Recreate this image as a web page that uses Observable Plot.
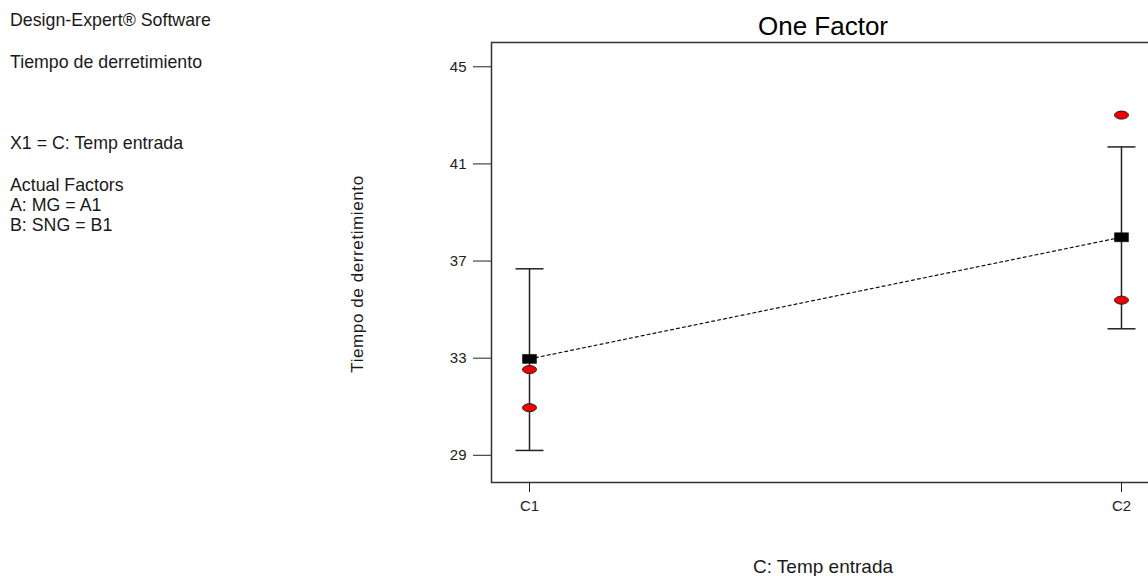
<!DOCTYPE html>
<html><head><meta charset="utf-8">
<script src="https://cdn.jsdelivr.net/npm/d3@7"></script>
<script src="https://cdn.jsdelivr.net/npm/@observablehq/plot@0.6"></script>
<style>
body{margin:0;background:#fff;font-family:"Liberation Sans",Arial,sans-serif;}
#wrap{position:relative;width:1148px;height:576px;overflow:hidden;background:#fff;}
#chart{position:absolute;left:0;top:0;}
#chart svg{max-width:none !important;}
.t{position:absolute;white-space:nowrap;color:#1a1a1a;line-height:1;}
</style></head><body>
<div id="wrap">
<div id="chart"></div>
<div class="t" style="left:10px;top:12px;font-size:17.8px">Design-Expert® Software</div>
<div class="t" style="left:10px;top:54px;font-size:17.8px">Tiempo de derretimiento</div>
<div class="t" style="left:10px;top:135px;font-size:17.8px">X1 = C: Temp entrada</div>
<div class="t" style="left:10px;top:177px;font-size:17.8px">Actual Factors</div>
<div class="t" style="left:10px;top:197px;font-size:17.8px">A: MG = A1</div>
<div class="t" style="left:10px;top:217px;font-size:17.8px">B: SNG = B1</div>
<div class="t" style="left:823px;top:26px;font-size:26px;transform:translate(-50%,-50%);color:#000">One Factor</div>
<div class="t" style="left:823px;top:566px;font-size:19px;transform:translate(-50%,-50%)">C: Temp entrada</div>
<div class="t" style="left:357px;top:274px;font-size:17px;letter-spacing:0.6px;transform:translate(-50%,-50%) rotate(-90deg)">Tiempo de derretimiento</div>
</div>
<script>
const categories = ["C1", "C2"];
const predicted = [32.97, 37.98];
const lowerCI = [29.2, 34.21];
const upperCI = [36.68, 41.70];
const observedCategory = ["C1", "C1", "C2", "C2"];
const observedValue = [32.53, 30.96, 43.01, 35.39];
const yTicks = [29, 33, 37, 41, 45];

const pos = c => categories.indexOf(c) + 1;
const rows = categories.map((c, i) => ({x: pos(c), mean: predicted[i], lo: lowerCI[i], hi: upperCI[i]}));
const obs = observedCategory.map((c, i) => ({x: pos(c), value: observedValue[i]}));

const capSymbol = {draw(ctx, size) { const r = Math.sqrt(size / Math.PI); ctx.moveTo(-r, 0); ctx.lineTo(r, 0); }};
const ellipseSymbol = {draw(ctx, size) {
  const rx = Math.sqrt(size / Math.PI), ry = rx * 4 / 7, k = 0.5523;
  ctx.moveTo(rx, 0);
  ctx.bezierCurveTo(rx, ry * k, rx * k, ry, 0, ry);
  ctx.bezierCurveTo(-rx * k, ry, -rx, ry * k, -rx, 0);
  ctx.bezierCurveTo(-rx, -ry * k, -rx * k, -ry, 0, -ry);
  ctx.bezierCurveTo(rx * k, -ry, rx, -ry * k, rx, 0);
  ctx.closePath();
}};
const rectSymbol = {draw(ctx, size) {
  const w = Math.sqrt(size / Math.PI), h = w * 9 / 7;
  ctx.rect(-w, -h / 2, 2 * w, h);
}};

const plot = Plot.plot({
  width: 1160,
  height: 576,
  marginLeft: 491,
  marginRight: 0,
  marginTop: 42,
  marginBottom: 94,
  style: {fontFamily: '"Liberation Sans", Arial, sans-serif', fontSize: "15px", color: "#222", background: "#fff", maxWidth: "none"},
  x: {domain: [0.9358, 2.0659], label: null},
  y: {domain: [27.88, 46.0], label: null},
  marks: [
    Plot.frame({stroke: "#333", strokeWidth: 1.5}),
    Plot.axisY({ticks: yTicks, tickSize: 18, tickPadding: 7, label: null, fontSize: 15}),
    Plot.axisX({ticks: [1, 2], tickFormat: i => categories[i - 1], tickSize: 10, tickPadding: 8, label: null, fontSize: 15}),
    Plot.line(rows, {x: "x", y: "mean", stroke: "#111", strokeWidth: 1.2, strokeDasharray: "3,3"}),
    Plot.ruleX(rows, {x: "x", y1: "lo", y2: "hi", stroke: "#222", strokeWidth: 1.5}),
    Plot.dot(rows, {x: "x", y: "hi", symbol: capSymbol, r: 14, stroke: "#222", strokeWidth: 1.5, fill: "none"}),
    Plot.dot(rows, {x: "x", y: "lo", symbol: capSymbol, r: 14, stroke: "#222", strokeWidth: 1.5, fill: "none"}),
    Plot.dot(obs, {x: "x", y: "value", symbol: ellipseSymbol, r: 7, fill: "#ee0000", stroke: "#222", strokeWidth: 1}),
    Plot.dot(rows, {x: "x", y: "mean", symbol: rectSymbol, r: 7, fill: "#000", stroke: "#000", strokeWidth: 0.5})
  ]
});
plot.style.maxWidth = "none";
document.getElementById("chart").appendChild(plot);
</script>
</body></html>
